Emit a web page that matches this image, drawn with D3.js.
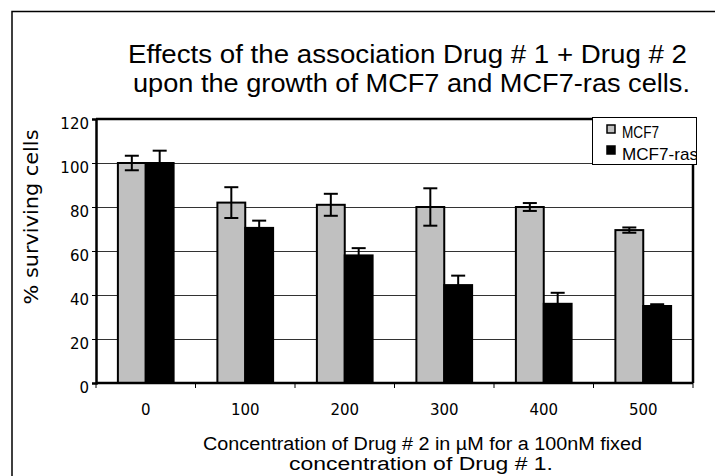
<!DOCTYPE html>
<html>
<head>
<meta charset="utf-8">
<script src="https://cdn.jsdelivr.net/npm/d3@7"></script>
<style>
  body { margin: 0; background: #fff; }
  svg { display: block; }
</style>
</head>
<body>
<div id="chart"></div>
<script>
// concentrations of drug #2 (µM)
var categories = ["0", "100", "200", "300", "400", "500"];
var seriesNames = ["MCF7", "MCF7-ras"];
// % surviving cells
var mcf7 = [100, 82, 81, 80, 80, 69.5];
var mcf7Err = [3.3, 7, 5, 8.5, 1.8, 1.2];
var mcf7ras = [100, 70.5, 58, 44.5, 36, 35];
var mcf7rasErr = [5.6, 3.3, 3.3, 4.3, 5, 0.8];
var yTicks = [0, 20, 40, 60, 80, 100, 120];

var W = 715, H = 476;
var plotLeft = 96, plotRight = 693, plotTop = 119, plotBottom = 383;

var svg = d3.select("#chart").append("svg")
  .attr("width", W)
  .attr("height", H);

// outer frame (only top and left visible)
svg.append("path")
  .attr("d", "M12," + (H + 2) + "V11.5H" + (W + 2))
  .attr("fill", "none")
  .attr("stroke", "#000")
  .attr("stroke-width", 1.5);

// title
var titleFont = "'Liberation Sans', Arial, sans-serif";
svg.append("text")
  .attr("x", 128).attr("y", 63)
  .attr("font-family", titleFont).attr("font-size", 25)
  .attr("textLength", 559).attr("lengthAdjust", "spacingAndGlyphs")
  .text("Effects of the association Drug # 1 + Drug # 2");
svg.append("text")
  .attr("x", 133).attr("y", 92)
  .attr("font-family", titleFont).attr("font-size", 25)
  .attr("textLength", 557).attr("lengthAdjust", "spacingAndGlyphs")
  .text("upon the growth of MCF7 and MCF7-ras cells.");

// scales
var x0 = d3.scaleBand()
  .domain(categories)
  .range([plotLeft, plotRight])
  .paddingInner(0.44)
  .paddingOuter(0.22);

var x1 = d3.scaleBand()
  .domain(seriesNames)
  .range([0, x0.bandwidth()]);

var y = d3.scaleLinear()
  .domain([0, 120])
  .range([plotBottom, plotTop]);

// gridlines
svg.append("g")
  .selectAll("line")
  .data(yTicks.filter(function(d) { return d > 0 && d < 120; }))
  .enter().append("line")
  .attr("x1", plotLeft).attr("x2", plotRight)
  .attr("y1", function(d) { return Math.round(y(d)) + 0.5; })
  .attr("y2", function(d) { return Math.round(y(d)) + 0.5; })
  .attr("stroke", "#333")
  .attr("stroke-width", 1);

// plot frame top + right
svg.append("path")
  .attr("d", "M" + plotLeft + "," + plotTop + "H" + plotRight + "V" + plotBottom)
  .attr("fill", "none")
  .attr("stroke", "#000")
  .attr("stroke-width", 2.5);

// bars
var rows = categories.map(function(c, i) {
  return [
    { cat: c, key: "MCF7", value: mcf7[i], err: mcf7Err[i] },
    { cat: c, key: "MCF7-ras", value: mcf7ras[i], err: mcf7rasErr[i] }
  ];
});
var colors = { "MCF7": "#c0c0c0", "MCF7-ras": "#000" };

var groups = svg.selectAll(".group")
  .data(rows)
  .enter().append("g")
  .attr("class", "group")
  .attr("transform", function(d) { return "translate(" + x0(d[0].cat) + ",0)"; });

groups.selectAll("rect")
  .data(function(d) { return d; })
  .enter().append("rect")
  .attr("x", function(d) { return x1(d.key); })
  .attr("y", function(d) { return y(d.value); })
  .attr("width", x1.bandwidth())
  .attr("height", function(d) { return y(0) - y(d.value); })
  .attr("fill", function(d) { return colors[d.key]; })
  .attr("stroke", "#000")
  .attr("stroke-width", 2);

// error bars
var cap = 7;
var eb = groups.selectAll(".err")
  .data(function(d) { return d; })
  .enter().append("g")
  .attr("class", "err")
  .attr("stroke", "#000")
  .attr("stroke-width", 2);
eb.append("line")
  .attr("x1", function(d) { return x1(d.key) + x1.bandwidth() / 2; })
  .attr("x2", function(d) { return x1(d.key) + x1.bandwidth() / 2; })
  .attr("y1", function(d) { return y(d.value + d.err); })
  .attr("y2", function(d) { return y(d.value - d.err); });
eb.append("line")
  .attr("x1", function(d) { return x1(d.key) + x1.bandwidth() / 2 - cap; })
  .attr("x2", function(d) { return x1(d.key) + x1.bandwidth() / 2 + cap; })
  .attr("y1", function(d) { return y(d.value + d.err); })
  .attr("y2", function(d) { return y(d.value + d.err); });
eb.append("line")
  .attr("x1", function(d) { return x1(d.key) + x1.bandwidth() / 2 - cap; })
  .attr("x2", function(d) { return x1(d.key) + x1.bandwidth() / 2 + cap; })
  .attr("y1", function(d) { return y(d.value - d.err); })
  .attr("y2", function(d) { return y(d.value - d.err); });

// y axis
var yAxis = d3.axisLeft(y)
  .tickValues(yTicks)
  .tickSize(4)
  .tickPadding(3)
  .tickFormat(d3.format("d"));
var gy = svg.append("g")
  .attr("transform", "translate(" + plotLeft + ",0)")
  .call(yAxis);
gy.select(".domain").attr("stroke-width", 2.5);
gy.selectAll("text")
  .attr("font-family", "'DejaVu Sans', Verdana, sans-serif")
  .attr("font-size", 15)
  .attr("fill", "#000")
  .attr("dy", "0.6em");

// x axis: ticks at band boundaries
var step = x0.step();
var xEdges = d3.range(categories.length + 1).map(function(i) { return plotLeft + i * step; });
svg.append("line")
  .attr("x1", plotLeft).attr("x2", plotRight)
  .attr("y1", plotBottom).attr("y2", plotBottom)
  .attr("stroke", "#000").attr("stroke-width", 2.5);
svg.append("g").selectAll("line")
  .data(xEdges)
  .enter().append("line")
  .attr("x1", function(d) { return d; }).attr("x2", function(d) { return d; })
  .attr("y1", plotBottom).attr("y2", plotBottom + 5)
  .attr("stroke", "#000").attr("stroke-width", 1);
svg.append("g").selectAll("text")
  .data(categories)
  .enter().append("text")
  .attr("x", function(d) { return x0(d) + x0.bandwidth() / 2; })
  .attr("y", 415)
  .attr("text-anchor", "middle")
  .attr("font-family", "'DejaVu Sans', Verdana, sans-serif")
  .attr("font-size", 15)
  .text(function(d) { return d; });

// axis titles
svg.append("text")
  .attr("transform", "translate(38,217) rotate(-90)")
  .attr("text-anchor", "middle")
  .attr("font-family", "'DejaVu Sans', Verdana, sans-serif")
  .attr("font-size", 19)
  .attr("textLength", 175).attr("lengthAdjust", "spacingAndGlyphs")
  .text("% surviving cells");

svg.append("text")
  .attr("x", 203).attr("y", 450)
  .attr("font-family", titleFont).attr("font-size", 18)
  .attr("textLength", 439).attr("lengthAdjust", "spacingAndGlyphs")
  .text("Concentration of Drug  # 2 in µM for a 100nM fixed");
svg.append("text")
  .attr("x", 289).attr("y", 470)
  .attr("font-family", titleFont).attr("font-size", 18)
  .attr("textLength", 264).attr("lengthAdjust", "spacingAndGlyphs")
  .text("concentration of Drug # 1.");

// legend
var lg = svg.append("g");
svg.append("clipPath").attr("id", "lgclip")
  .append("rect").attr("x", 592).attr("y", 117).attr("width", 104).attr("height", 47);
lg.append("rect")
  .attr("x", 592.5).attr("y", 117.5).attr("width", 104).attr("height", 47)
  .attr("fill", "#fff").attr("stroke", "#000").attr("stroke-width", 1);
seriesNames.forEach(function(s, i) {
  lg.append("rect")
    .attr("x", 607).attr("y", 125 + i * 21).attr("width", 8).attr("height", 8)
    .attr("fill", colors[s]).attr("stroke", "#000").attr("stroke-width", 1.5);
  lg.append("text")
    .attr("x", 622).attr("y", 138 + i * 22)
    .attr("clip-path", "url(#lgclip)")
    .attr("font-family", "'Liberation Sans Narrow', 'Liberation Sans', Arial, sans-serif")
    .attr("font-size", 17)
    .attr("textLength", i === 0 ? 37 : 76).attr("lengthAdjust", "spacingAndGlyphs")
    .text(s);
});
</script>
</body>
</html>
